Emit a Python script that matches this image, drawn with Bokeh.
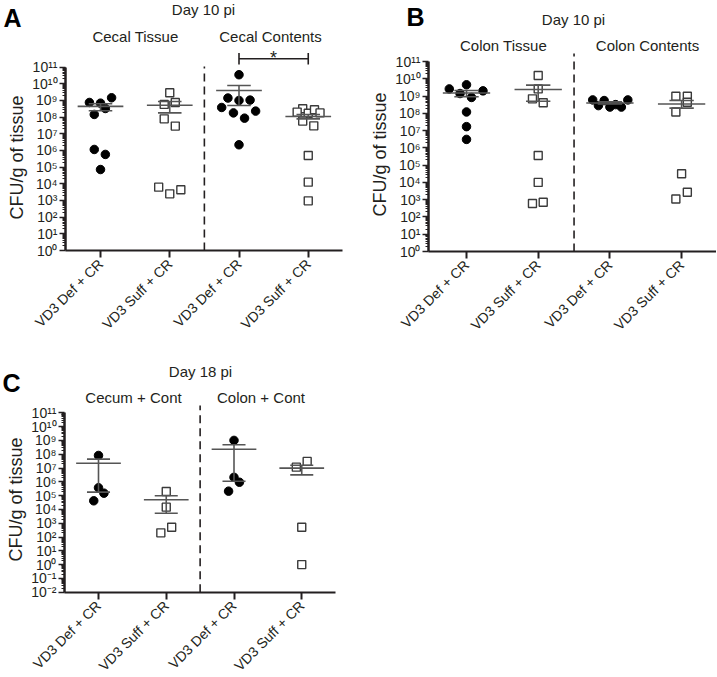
import math
from bokeh.plotting import figure
from bokeh.models import Range1d, FixedTicker, Label, ColumnDataSource
from bokeh.layouts import column, row
from bokeh.embed import file_html
from bokeh.resources import INLINE

FONT = "Liberation Sans"
INK = "#231f20"
GREY = "#555555"

categories = ["VD3 Def + CR", "VD3 Suff + CR", "VD3 Def + CR", "VD3 Suff + CR"]
y_label = "CFU/g of tissue"

# ---------------- Panel A: Day 10 pi, cecum ----------------
a_title = "Day 10 pi"
a_groups = ["Cecal Tissue", "Cecal Contents"]
a_def_tissue = [7.6e8, 6.9e8, 1.45e9, 1.45e8, 3.3e8, 1.15e6, 5.8e5, 7.2e4]
a_suff_tissue = [2.9e9, 5.8e8, 7.6e8, 7.9e7, 2.9e7, 6.3e3, 2.5e3, 4.4e3]
a_def_contents = [3.5e10, 1.4e9, 1.0e9, 1.05e9, 3.8e8, 1.8e8, 2.3e8, 8.7e7, 2.2e6]
a_suff_contents = [3.2e8, 2.0e8, 1.7e8, 2.8e8, 1.8e8, 5.8e7, 3.0e7, 5.0e5, 1.26e4, 9.5e2]
a_mean = [4.4e8, 5.2e8, 4.0e9, 1.1e8]
a_sem_hi = [6.3e8, 8.7e8, 7.9e9, 1.45e8]
a_sem_lo = [2.4e8, 1.8e8, 5.0e8, 7.9e7]
a_jitter = [[-0.16, 0, 0.16, -0.09, 0.07, -0.09, 0.07, 0],
            [0, -0.08, 0.08, -0.08, 0.08, -0.16, 0, 0.16],
            [0, -0.16, 0, 0.16, -0.25, -0.08, 0.24, 0.08, 0],
            [-0.08, -0.16, 0, 0.09, 0.17, -0.08, 0.08, 0, 0, 0]]
a_sig_pair = (3, 4)
a_sig_text = "*"

# ---------------- Panel B: Day 10 pi, colon ----------------
b_title = "Day 10 pi"
b_groups = ["Colon Tissue", "Colon Contents"]
b_def_tissue = [2.6e9, 4.5e9, 2.0e9, 1.4e9, 8.3e8, 1.2e8, 1.7e7, 3.1e6]
b_suff_tissue = [1.55e10, 2.6e9, 6.9e8, 4.1e8, 3.6e5, 1.0e4, 6.0e2, 7.1e2]
b_def_contents = [6.0e8, 2.8e8, 5.5e8, 2.3e8, 3.2e8, 2.3e8, 6.0e8]
b_suff_contents = [9.8e8, 9.8e8, 4.4e8, 1.2e8, 3.2e4, 2.7e3, 1.1e3]
b_mean = [1.5e9, 2.4e9, 4.0e8, 3.5e8]
b_sem_hi = [2.1e9, 4.3e9, 4.6e8, 5.5e8]
b_sem_lo = [9.1e8, 5.0e8, 3.5e8, 2.0e8]
b_jitter = [[-0.24, 0, 0.23, -0.09, 0.07, 0, 0, 0],
            [0, 0, -0.08, 0.07, 0, 0, -0.08, 0.07],
            [-0.24, -0.16, -0.08, 0, 0.08, 0.16, 0.25],
            [-0.08, 0.08, 0.08, -0.08, 0, 0.08, -0.08]]

# ---------------- Panel C: Day 18 pi ----------------
c_title = "Day 18 pi"
c_groups = ["Cecum + Cont", "Colon + Cont"]
c_def_cecum = [8.1e7, 3.7e5, 1.5e5, 4.2e4]
c_suff_cecum = [2.0e5, 1.45e4, 5.1e2, 2.0e2]
c_def_colon = [1.0e9, 2.1e6, 9.3e5, 2.1e5]
c_suff_colon = [1.15e7, 3.0e7, 5.1e2, 1.0]
c_mean = [2.2e7, 5.0e4, 2.3e8, 9.8e6]
c_sem_hi = [4.4e7, 9.8e4, 4.8e8, 1.6e7]
c_sem_lo = [1.8e5, 5.2e3, 1.1e6, 3.2e6]
c_jitter = [[0, 0, 0.08, -0.07],
            [0, 0, 0.08, -0.08],
            [0, 0, 0.08, -0.08],
            [-0.08, 0.08, 0, 0]]

SUP = str.maketrans("0123456789-", "⁰¹²³⁴⁵⁶⁷⁸⁹⁻")


def make_panel(series, jitter, mean, hi, lo, letter, title, groups, g, sig=None):
    # layout geometry in page pixels -> data coordinates
    def X(px):
        return 1 + (px - g["c1"]) / g["ppu"]

    def Y(py):
        return 10 ** (g["e_lo"] + (g["axis_py"] - py) / g["ppd"])

    left, top, w, h = g["left"], g["top"], g["w"], g["h"]
    p = figure(width=w, height=h, output_backend="svg", toolbar_location=None,
               y_axis_type="log", x_range=Range1d(X(left), X(left + w)),
               y_range=Range1d(Y(top + h), Y(top)), title=None,
               min_border_left=0, min_border_right=0, min_border_bottom=0, min_border_top=0)
    p.outline_line_color = None
    p.xgrid.visible = False
    p.ygrid.visible = False
    p.background_fill_color = "white"
    p.border_fill_color = "white"

    e_lo, e_hi = g["e_lo"], 11
    y_axis_at = X(g["axis_px"])

    # y axis (log, decades with minor ticks)
    majors = [10.0 ** e for e in range(e_lo, e_hi + 1)]
    minors = [k * 10.0 ** e for e in range(e_lo, e_hi) for k in range(2, 10)]
    ya = p.yaxis[0]
    ya.fixed_location = y_axis_at
    ya.ticker = FixedTicker(ticks=majors, minor_ticks=minors)
    ya.bounds = (10.0 ** e_lo, 10.0 ** e_hi)
    ya.major_label_overrides = {v: "10" + str(e).translate(SUP)
                                for v, e in zip(majors, range(e_lo, e_hi + 1))}
    ya.axis_line_width = 2.5
    ya.axis_line_color = INK
    ya.major_tick_out = 6
    ya.major_tick_in = 0
    ya.minor_tick_out = 3
    ya.minor_tick_in = 0
    ya.major_tick_line_width = 1.5
    ya.minor_tick_line_width = 1
    ya.major_tick_line_color = INK
    ya.minor_tick_line_color = INK
    ya.major_label_standoff = 2
    ya.major_label_text_font = FONT
    ya.major_label_text_font_size = "14px"
    ya.major_label_text_color = INK

    # x axis (categories)
    xa = p.xaxis[0]
    xa.fixed_location = 10.0 ** e_lo
    xa.bounds = (y_axis_at, 4.5)
    xa.ticker = FixedTicker(ticks=[1, 2, 3, 4], minor_ticks=[])
    xa.major_label_overrides = {i + 1: c for i, c in enumerate(categories)}
    xa.major_label_orientation = math.pi / 4
    xa.axis_line_width = 2
    xa.axis_line_color = INK
    xa.major_tick_out = 7
    xa.major_tick_in = 0
    xa.major_tick_line_width = 2
    xa.major_tick_line_color = INK
    xa.major_label_standoff = 4
    xa.major_label_text_font = FONT
    xa.major_label_text_font_size = "14px"
    xa.major_label_text_color = INK

    # y axis title
    yl_x, yl_y = g["ylab"]
    p.add_layout(Label(x=X(yl_x), y=Y(yl_y), text=y_label, angle=math.pi / 2,
                       text_font=FONT, text_font_size="18px", text_align="center",
                       text_baseline="middle", text_color=INK))

    # divider between groups
    p.segment(x0=[2.5], y0=[10.0 ** e_lo], x1=[2.5], y1=[Y(g["div_top"])],
              line_color=INK, line_width=1.6, line_dash="8 5")

    # points
    for i, (vals, dx) in enumerate(zip(series, jitter)):
        src = ColumnDataSource(dict(x=[i + 1 + d for d in dx], y=vals))
        if i % 2 == 0:
            p.scatter("x", "y", source=src, marker="circle", size=8.5,
                      fill_color="black", line_color="black")
        else:
            p.scatter("x", "y", source=src, marker="square", size=8,
                      fill_color="white", line_color="#3a3a3a", line_width=1.4)

    # mean +/- SEM
    cats = [1, 2, 3, 4]
    p.segment(x0=[c - 0.33 for c in cats], x1=[c + 0.33 for c in cats], y0=mean, y1=mean,
              line_color=GREY, line_width=1.6)
    p.segment(x0=cats, x1=cats, y0=lo, y1=hi, line_color=GREY, line_width=1.6)
    p.segment(x0=[c - 0.17 for c in cats], x1=[c + 0.17 for c in cats], y0=hi, y1=hi,
              line_color=GREY, line_width=1.6)
    p.segment(x0=[c - 0.17 for c in cats], x1=[c + 0.17 for c in cats], y0=lo, y1=lo,
              line_color=GREY, line_width=1.6)

    if sig is not None:
        (ca, cb), text = sig
        sp = g["sig_py"]
        p.segment(x0=[ca], x1=[cb], y0=[Y(sp)], y1=[Y(sp)], line_color=INK, line_width=1.6)
        p.segment(x0=[ca, cb], x1=[ca, cb], y0=[Y(sp + 5.7)] * 2, y1=[Y(sp - 5.7)] * 2,
                  line_color=INK, line_width=1.6)
        p.add_layout(Label(x=(ca + cb) / 2, y=Y(sp - 0.5), text=text, text_font=FONT,
                           text_font_size="18px", text_align="center",
                           text_baseline="alphabetic", text_color=INK))

    # panel letter, day title, group titles
    (lx, ly), (tx, ty), (g1x, g1y), (g2x, g2y) = g["txt"]
    p.add_layout(Label(x=X(lx), y=Y(ly), text=letter, text_font=FONT, text_font_size="25px",
                       text_font_style="bold", text_align="left", text_baseline="middle",
                       text_color="black"))
    for (px_, py_), t in [((tx, ty), title), ((g1x, g1y), groups[0]), ((g2x, g2y), groups[1])]:
        p.add_layout(Label(x=X(px_), y=Y(py_), text=t, text_font=FONT, text_font_size="15px",
                           text_align="center", text_baseline="middle", text_color=INK))
    return p


geo_a = dict(left=0, top=0, w=360, h=340, c1=100, ppu=69.25, axis_px=65,
             e_lo=0, axis_py=250, ppd=16.67, div_top=66, sig_py=58.3, ylab=(16, 157),
             txt=((3, 17), (203, 9), (135, 35.5), (270, 35.5)))
geo_b = dict(left=360, top=0, w=356, h=340, c1=466, ppu=71.7, axis_px=428,
             e_lo=0, axis_py=251, ppd=17.27, div_top=53, ylab=(379.5, 154),
             txt=((406, 16), (573, 18.5), (503, 45), (647, 45)))
geo_c = dict(left=0, top=340, w=360, h=336, c1=98, ppu=67.75, axis_px=64,
             e_lo=-2, axis_py=591.7, ppd=13.8, div_top=405, ylab=(15.5, 499),
             txt=((2, 382), (200, 371), (133, 397), (260.5, 397)))

pa = make_panel([a_def_tissue, a_suff_tissue, a_def_contents, a_suff_contents], a_jitter,
                a_mean, a_sem_hi, a_sem_lo, "A", a_title, a_groups, geo_a,
                sig=(a_sig_pair, a_sig_text))
pb = make_panel([b_def_tissue, b_suff_tissue, b_def_contents, b_suff_contents], b_jitter,
                b_mean, b_sem_hi, b_sem_lo, "B", b_title, b_groups, geo_b)
pc = make_panel([c_def_cecum, c_suff_cecum, c_def_colon, c_suff_colon], c_jitter,
                c_mean, c_sem_hi, c_sem_lo, "C", c_title, c_groups, geo_c)

layout = column(row(pa, pb), pc)
open("out.html", "w").write(file_html(layout, INLINE))
